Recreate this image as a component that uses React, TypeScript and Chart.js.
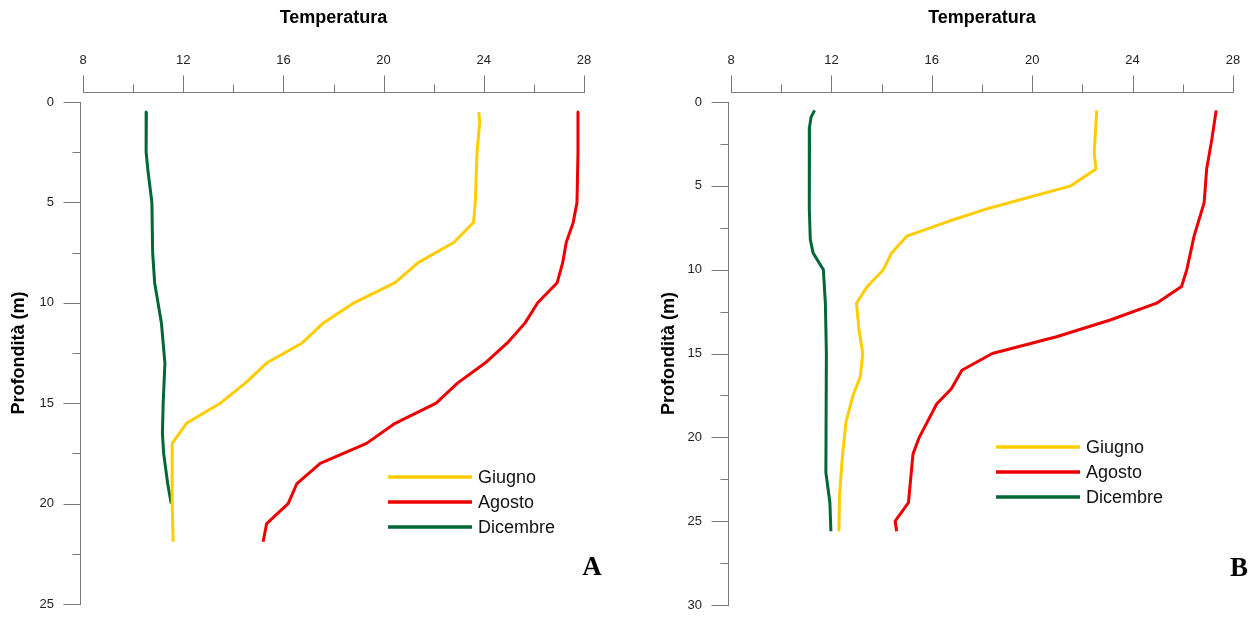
import React, { useEffect, useRef } from "react";
import { Chart, registerables } from "chart.js";

Chart.register(...registerables);

// ---------- DATA ----------
const seriesLabels = ["Giugno", "Agosto", "Dicembre"];
const seriesColors = ["#FFCC00", "#EE0000", "#006837"];

const xTitle = "Temperatura";
const yTitle = "Profondità (m)";
const panelLetters = ["A", "B"];

const xMin = 8;
const xMax = 28;
const xMajorStep = 4;
const xMinorStep = 2;
const yMajorStep = 5;
const yMinorStep = 2.5;
const yMaxA = 25;
const yMaxB = 30;

// Panel A
const depthA_Giugno = [0.5, 1, 2.5, 5, 6, 7, 8, 9, 10, 11, 12, 13, 14, 15, 16, 17, 20, 21.9];
const tempA_Giugno = [23.8, 23.84, 23.73, 23.66, 23.59, 22.8, 21.38, 20.46, 18.82, 17.6, 16.75, 15.33, 14.48, 13.48, 12.13, 11.56, 11.56, 11.6];

const depthA_Agosto = [0.5, 2.5, 5, 6, 7, 8, 9, 10, 11, 12, 13, 14, 15, 16, 17, 18, 19, 20, 21, 21.9];
const tempA_Agosto = [27.76, 27.76, 27.72, 27.57, 27.29, 27.15, 26.93, 26.15, 25.65, 24.94, 24.05, 22.95, 22.1, 20.46, 19.32, 17.47, 16.54, 16.19, 15.33, 15.19];

const depthA_Dicembre = [0.5, 2.5, 3.5, 5, 7.5, 9, 11, 13, 15, 16.5, 17.5, 19, 20];
const tempA_Dicembre = [10.53, 10.52, 10.6, 10.75, 10.78, 10.86, 11.13, 11.27, 11.2, 11.17, 11.22, 11.38, 11.52];

// Panel B
const depthB_Giugno = [0.5, 2, 3, 4, 5, 6.4, 7.1, 8, 9, 10, 11, 12, 13.6, 15, 16.4, 17.5, 19.1, 21.1, 23.5, 25.6];
const tempB_Giugno = [22.57, 22.51, 22.47, 22.54, 21.54, 18.13, 16.7, 15.0, 14.4, 14.07, 13.43, 13.0, 13.1, 13.25, 13.15, 12.86, 12.58, 12.44, 12.32, 12.3];

const depthB_Agosto = [0.5, 2.2, 4, 6, 8, 10, 11, 12, 13, 14, 15, 16, 17.1, 18, 20, 21, 23.9, 25, 25.6];
const tempB_Agosto = [27.33, 27.16, 26.95, 26.85, 26.45, 26.16, 25.95, 24.96, 23.11, 20.97, 18.41, 17.2, 16.78, 16.2, 15.5, 15.25, 15.07, 14.54, 14.6];

const depthB_Dicembre = [0.5, 0.9, 1.5, 6.4, 8.2, 9, 10, 12, 15, 22.1, 23.9, 25.6];
const tempB_Dicembre = [11.33, 11.19, 11.13, 11.12, 11.16, 11.27, 11.68, 11.76, 11.8, 11.78, 11.94, 11.98];

// ---------- HELPERS ----------
const FONT = "'Liberation Sans', Arial, sans-serif";
const AXIS_COLOR = "#7a7a7a";

function toPoints(temps: number[], depths: number[]) {
  return temps.map((t, i) => ({ x: t, y: depths[i] }));
}

const customAxes = {
  id: "customAxes",
  afterDraw(chart: any, _args: any, opts: any) {
    const { ctx, chartArea, scales } = chart;
    const xs = scales.x;
    const ys = scales.y;
    ctx.save();
    ctx.strokeStyle = AXIS_COLOR;
    ctx.lineWidth = 1;
    ctx.beginPath();
    // x axis (top), detached above the plot
    const yLine = Math.round(chartArea.top - opts.xGap) + 0.5;
    const x0 = xs.getPixelForValue(xs.min);
    const x1 = xs.getPixelForValue(xs.max);
    ctx.moveTo(Math.round(x0), yLine);
    ctx.lineTo(Math.round(x1) + 1, yLine);
    for (let v = xs.min; v <= xs.max + 1e-6; v += opts.xMinor) {
      const px = Math.round(xs.getPixelForValue(v)) + 0.5;
      const major = Math.abs(v / opts.xMajor - Math.round(v / opts.xMajor)) < 1e-6;
      const len = major ? 17 : 8;
      ctx.moveTo(px, yLine);
      ctx.lineTo(px, yLine - len);
    }
    // y axis (left)
    const xLine = Math.round(chartArea.left - opts.yGap) + 0.5;
    const y0 = ys.getPixelForValue(ys.min);
    const y1 = ys.getPixelForValue(ys.max);
    ctx.moveTo(xLine, Math.round(y0));
    ctx.lineTo(xLine, Math.round(y1) + 1);
    for (let v = ys.min; v <= ys.max + 1e-6; v += opts.yMinor) {
      const py = Math.round(ys.getPixelForValue(v)) + 0.5;
      const major = Math.abs(v / opts.yMajor - Math.round(v / opts.yMajor)) < 1e-6;
      const len = major ? 17 : 8;
      ctx.moveTo(xLine, py);
      ctx.lineTo(xLine - len, py);
    }
    ctx.stroke();
    ctx.restore();
  },
};

const customLegend = {
  id: "customLegend",
  afterDraw(chart: any, _args: any, opts: any) {
    const { ctx } = chart;
    ctx.save();
    chart.data.datasets.forEach((ds: any, i: number) => {
      const y = opts.y + i * opts.rowGap;
      ctx.strokeStyle = ds.borderColor;
      ctx.lineWidth = 3.5;
      ctx.beginPath();
      ctx.moveTo(opts.x, y);
      ctx.lineTo(opts.x + opts.lineLen, y);
      ctx.stroke();
      ctx.fillStyle = "#111";
      ctx.font = `18px ${FONT}`;
      ctx.textAlign = "left";
      ctx.textBaseline = "middle";
      ctx.fillText(ds.label, opts.x + opts.lineLen + opts.textGap, y + 1);
    });
    // panel letter
    ctx.fillStyle = "#000";
    ctx.font = `bold 27px 'Liberation Serif', 'Times New Roman', serif`;
    ctx.textAlign = "center";
    ctx.textBaseline = "middle";
    ctx.fillText(opts.letter, opts.letterX, opts.letterY);
    ctx.restore();
  },
};

function buildConfig(
  data: { x: number; y: number }[][],
  yMax: number,
  yAxisWidth: number,
  padRight: number,
  padBottom: number,
  legend: any
): any {
  return {
    type: "scatter",
    data: {
      datasets: data.map((pts, i) => ({
        label: seriesLabels[i],
        data: pts,
        showLine: true,
        borderColor: seriesColors[i],
        backgroundColor: seriesColors[i],
        borderWidth: 3,
        pointRadius: 0,
        pointHoverRadius: 0,
        tension: 0,
        borderJoinStyle: "round",
        borderCapStyle: "butt",
      })),
    },
    options: {
      animation: false,
      responsive: false,
      devicePixelRatio: 1,
      layout: { padding: { left: 0, top: 0, right: padRight, bottom: padBottom } },
      plugins: {
        legend: { display: false },
        tooltip: { enabled: false },
        customAxes: { xGap: 10, yGap: 3, xMinor: xMinorStep, xMajor: xMajorStep, yMinor: yMinorStep, yMajor: yMajorStep },
        customLegend: legend,
      },
      scales: {
        x: {
          type: "linear",
          position: "top",
          min: xMin,
          max: xMax,
          grid: { display: false },
          border: { display: false },
          ticks: { stepSize: xMajorStep, padding: 26, color: "#222", font: { family: FONT, size: 13 } },
          title: {
            display: true,
            text: xTitle,
            color: "#000",
            font: { family: FONT, size: 18, weight: "bold" },
            padding: { top: 7, bottom: 0 },
          },
          afterFit(scale: any) {
            scale.height = 102;
            scale.paddingLeft = 0;
            scale.paddingRight = 0;
          },
        },
        y: {
          type: "linear",
          position: "left",
          reverse: true,
          min: 0,
          max: yMax,
          grid: { display: false },
          border: { display: false },
          ticks: { stepSize: yMajorStep, padding: 21, color: "#222", font: { family: FONT, size: 13 } },
          title: {
            display: true,
            text: yTitle,
            color: "#000",
            font: { family: FONT, size: 18, weight: "bold" },
            padding: { top: 8, bottom: 0 },
          },
          afterFit(scale: any) {
            scale.width = yAxisWidth;
            scale.paddingTop = 0;
            scale.paddingBottom = 0;
          },
        },
      },
    },
    plugins: [customAxes, customLegend],
  };
}

function Panel(props: { config: any; left: number; width: number }) {
  const ref = useRef<HTMLCanvasElement | null>(null);
  useEffect(() => {
    if (!ref.current) return;
    const chart = new Chart(ref.current, props.config);
    return () => chart.destroy();
  }, []);
  return (
    <canvas
      ref={ref}
      width={props.width}
      height={619}
      style={{ position: "absolute", left: props.left, top: 0, width: props.width, height: 619, display: "block" }}
    />
  );
}

export default function App() {
  const configA = buildConfig(
    [
      toPoints(tempA_Giugno, depthA_Giugno),
      toPoints(tempA_Agosto, depthA_Agosto),
      toPoints(tempA_Dicembre, depthA_Dicembre),
    ],
    yMaxA,
    83,
    46,
    15,
    { x: 388, y: 477, rowGap: 25, lineLen: 84, textGap: 6, letter: panelLetters[0], letterX: 592, letterY: 568 }
  );
  const configB = buildConfig(
    [
      toPoints(tempB_Giugno, depthB_Giugno),
      toPoints(tempB_Agosto, depthB_Agosto),
      toPoints(tempB_Dicembre, depthB_Dicembre),
    ],
    yMaxB,
    81,
    27,
    14,
    { x: 346, y: 447, rowGap: 25, lineLen: 84, textGap: 6, letter: panelLetters[1], letterX: 589, letterY: 569 }
  );
  return (
    <div style={{ position: "absolute", left: 0, top: 0, width: 1260, height: 619, background: "#fff", overflow: "hidden" }}>
      <Panel config={configA} left={0} width={630} />
      <Panel config={configB} left={650} width={610} />
    </div>
  );
}
